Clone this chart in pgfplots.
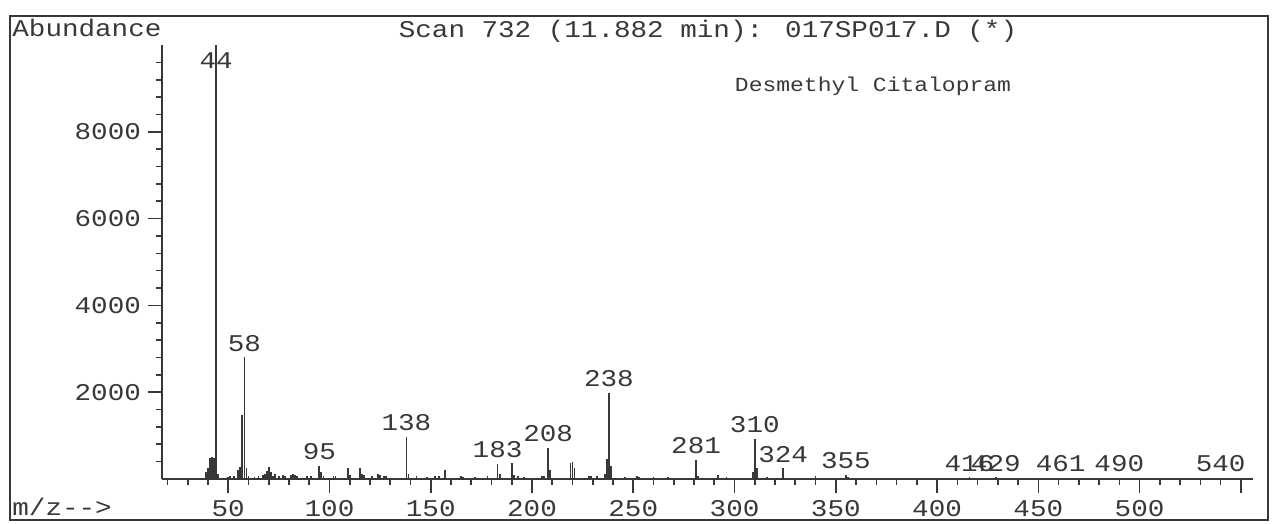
\documentclass[border=0pt]{standalone}
\usepackage{fontspec}
\setmainfont{Liberation Mono}[FakeStretch=1.15]
\usepackage{pgfplots}
\pgfplotsset{compat=1.18}
\definecolor{ink}{gray}{0.22}
\newcommand\lab{\fontsize{12}{14}\selectfont}
\newcommand\namesz{\fontsize{10}{12}\selectfont}
\begin{document}
\begin{tikzpicture}
\begin{axis}[
  scale only axis, width=545.5pt, height=217pt,
  xmin=17.3, xmax=556, ymin=0, ymax=10000,
  axis lines=left, axis line style={-, ink, line width=1pt},
  clip=false,
  xtick={50,100,...,500}, extra x ticks={550}, extra x tick labels={},
  minor xtick={20,30,...,540},
  ytick={2000,4000,6000,8000}, minor ytick={400,800,...,9600},
  tick align=outside,
  major tick length=7pt, minor tick length=3pt,
  every tick/.style={ink, line width=0.8pt},
  tick label style={font=\lab, text=ink},
  /pgf/number format/assume math mode=true,
  /pgf/number format/1000 sep={},
  scaled y ticks=false, scaled x ticks=false,
]
\addplot[ycomb, ink, line width=0.9pt, mark=none] coordinates {
(39,160) (40,250) (41,480) (42,500) (43,480) (45,120) (50,40) (51,60) (53,80)
(55,200) (56,280) (57,1480) (59,250) (60,60) (63,50) (65,80) (67,100) (68,120)
(69,180) (70,280) (71,150) (72,80) (73,120) (75,80) (77,100) (78,60) (81,100)
(82,110) (83,100) (84,60) (89,60) (91,80) (96,150) (97,60) (102,80) (103,60)
(109,260) (110,100) (115,250) (116,120) (117,100) (121,60) (124,120) (125,100)
(127,80) (128,60) (139,120) (143,60) (148,50) (152,60) (154,80) (157,200)
(165,60) (166,50) (172,50) (178,80) (184,120) (190,380) (191,100) (193,80)
(196,50) (205,80) (206,60) (209,200) (219,380) (220,400) (221,250) (228,80)
(229,60) (232,60) (236,120) (237,450) (239,300) (246,40) (252,60) (253,50)
(260,50) (267,40) (282,80) (292,90) (296,40) (309,150) (311,250) (316,40)
(340,80) (356,50) (44,10000)
};
\addplot[ycomb, ink, line width=0.9pt, mark=none,
  point meta=explicit symbolic, nodes near coords,
  nodes near coords style={font=\lab, text=ink, anchor=south, inner sep=2.5pt}]
coordinates {
(58,2800) [58] (95,300) [95] (138,970) [138] (183,345) [183] (208,715) [208]
(238,1980) [238] (281,440) [281] (310,920) [310] (324,250) [324] (355,90) [355]
(416,40) [416] (429,40) [429] (461,30) [461] (490,30) [490] (540,30) [540]
};
\node[font=\lab, text=ink] at (axis cs:44,9631) {44};
\path (rel axis cs:-0.14849,-0.10138) rectangle (rel axis cs:1.01741,1.10369);
\draw[ink, line width=1pt] (rel axis cs:-0.13932,-0.09447) rectangle (rel axis cs:1.01375,1.06682);
\node[anchor=base, font=\lab, text=ink] at (rel axis cs:0.50046,1.01613) {Scan 732 (11.882 min): 017SP017.D (*)};
\node[anchor=base, font=\namesz, text=ink] at (rel axis cs:0.65170,0.89171) {Desmethyl Citalopram};
\node[anchor=base west, font=\lab, text=ink, inner sep=0pt] at (rel axis cs:-0.13749,1.01959) {Abundance};
\node[anchor=base west, font=\lab, text=ink, inner sep=0pt] at (rel axis cs:-0.13749,-0.08525) {m/z-{}-{}>};
\end{axis}
\end{tikzpicture}
\end{document}
